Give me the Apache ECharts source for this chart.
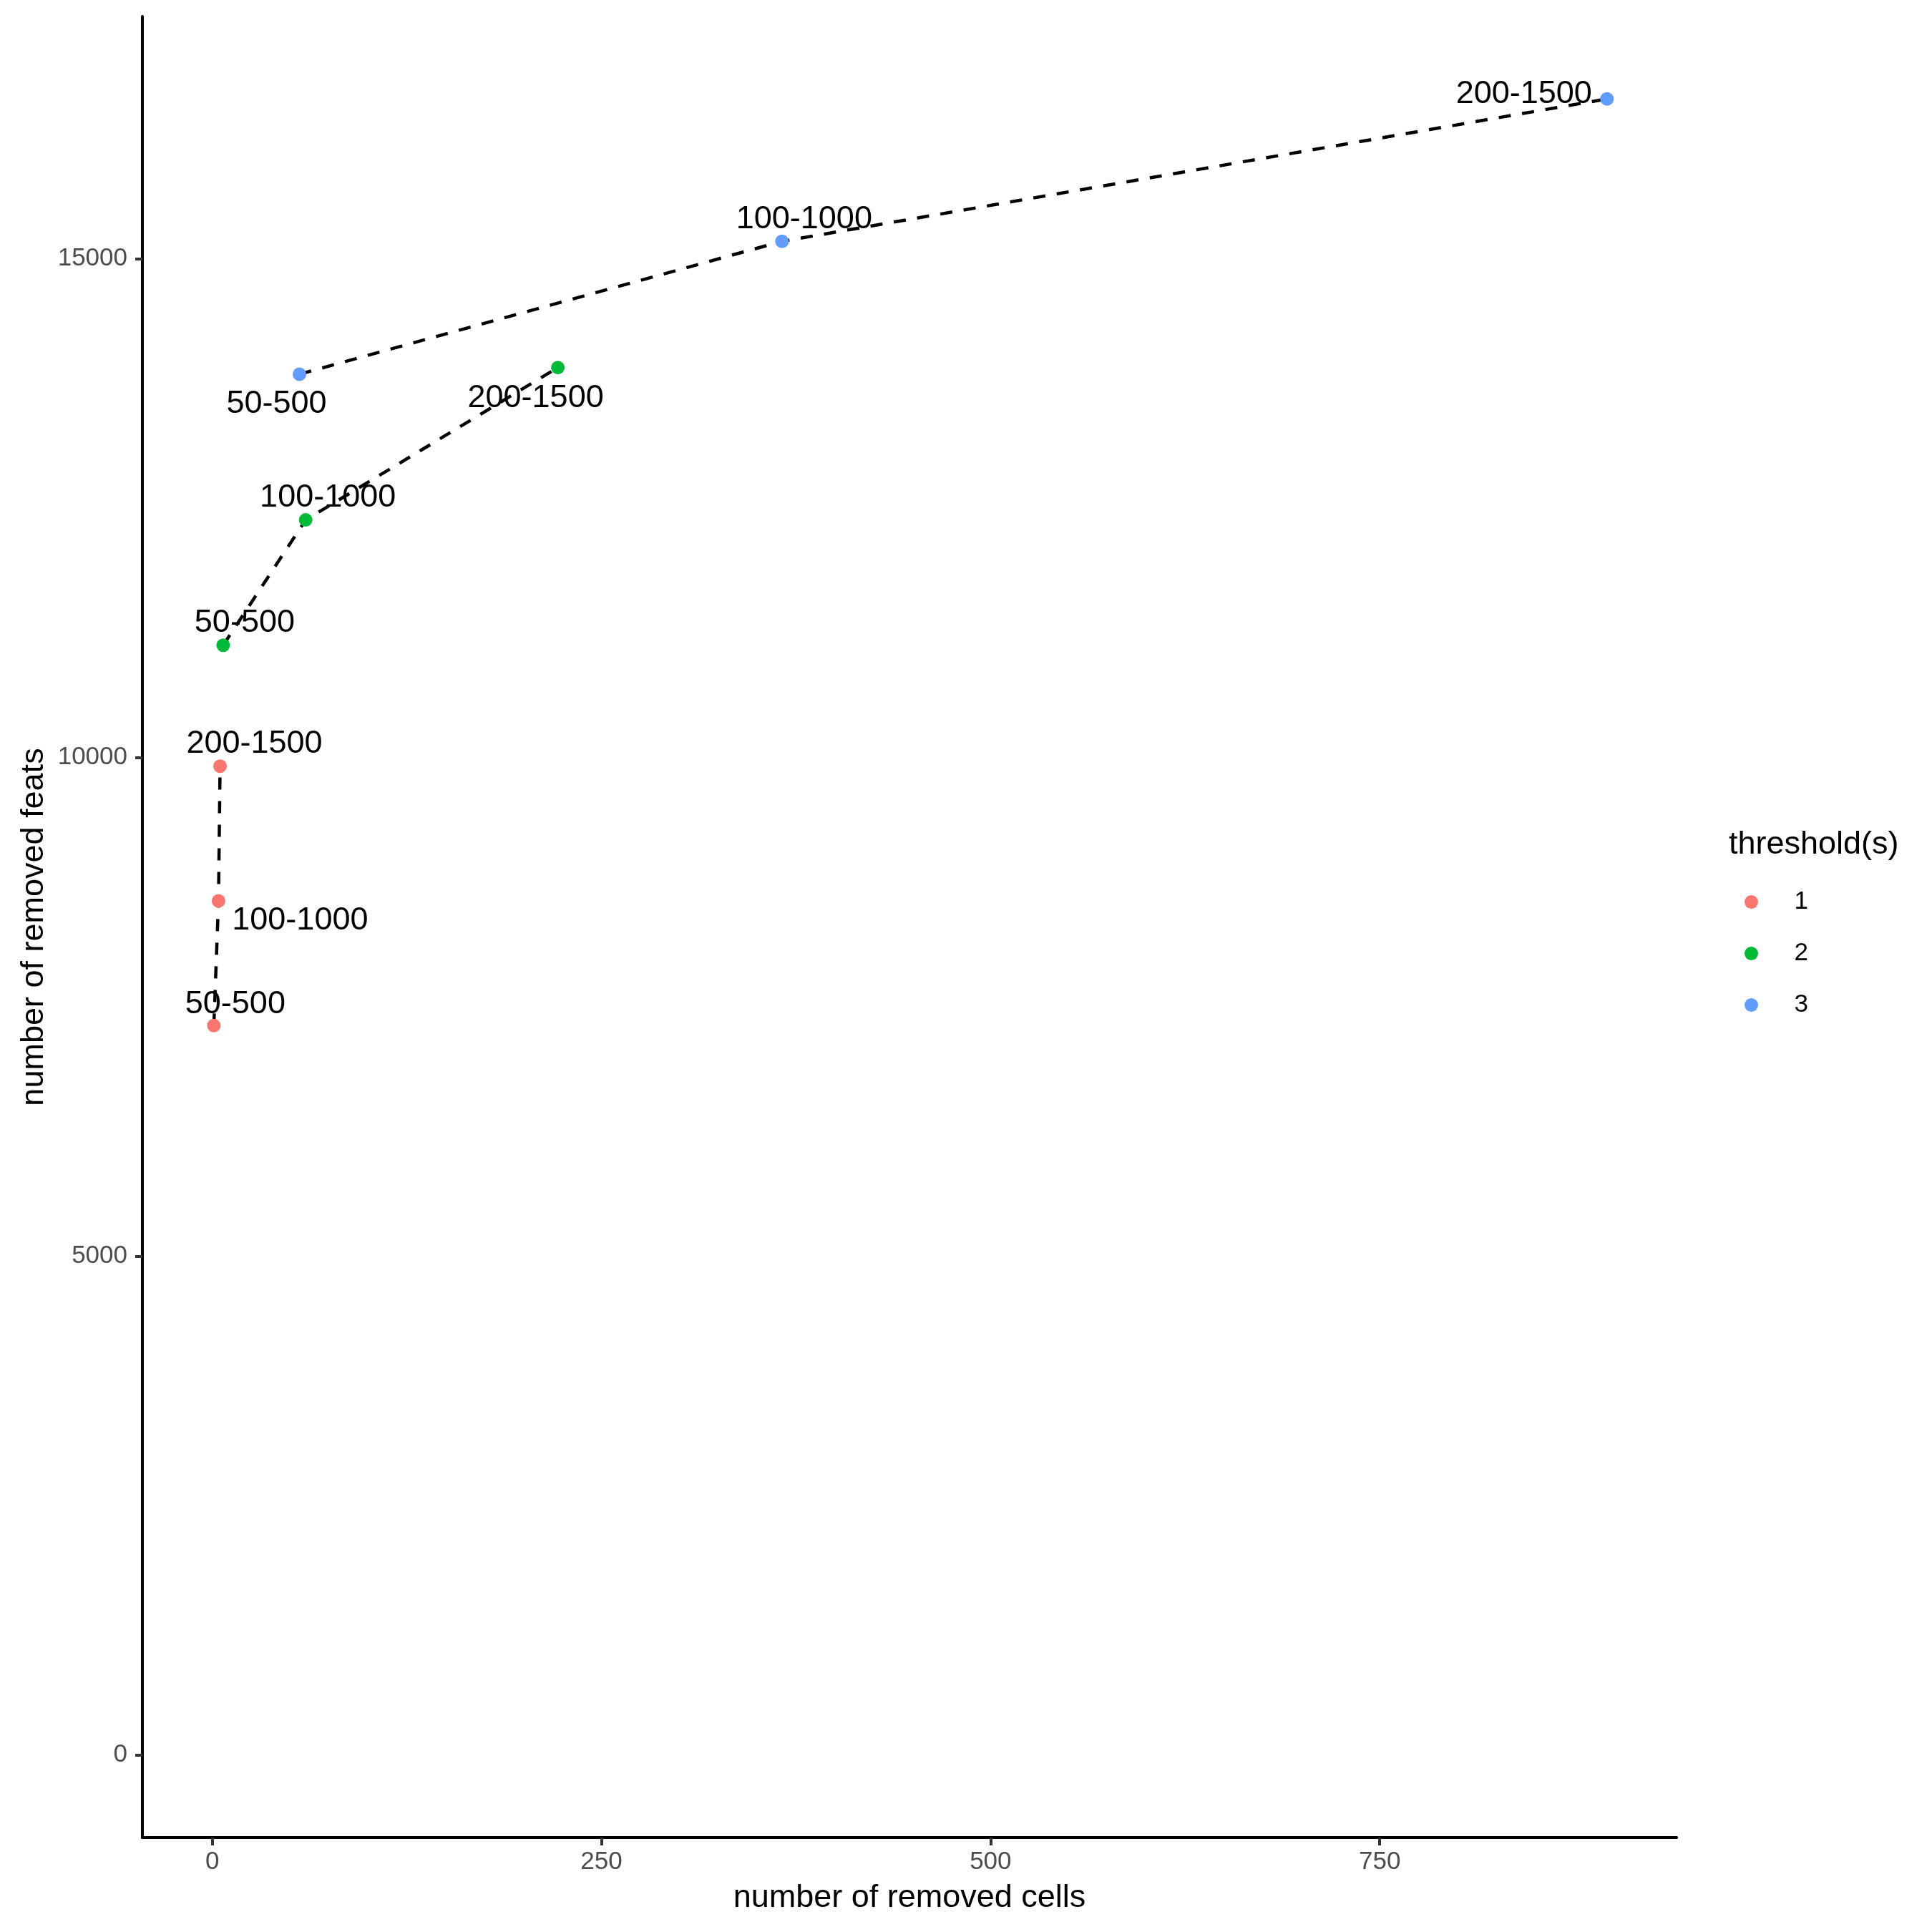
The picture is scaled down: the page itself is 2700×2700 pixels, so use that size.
<!DOCTYPE html>
<html>
<head>
<meta charset="utf-8">
<script src="https://cdn.jsdelivr.net/npm/echarts@6/dist/echarts.min.js"></script>
<style>
  html, body { margin: 0; padding: 0; background: #fff; }
</style>
</head>
<body>
<div id="main" style="width: 2700px;height: 2700px"></div>
<script type="text/javascript">
    // thresholds (legend groups) and point labels
    var groups = ['1', '2', '3'];
    var pointLabels = ['50-500', '100-1000', '200-1500'];

    // number of removed cells (x) / number of removed feats (y), per group
    var cells1 = [1, 4, 5];
    var feats1 = [7311, 8561, 9912];
    var cells2 = [7, 60, 222];
    var feats2 = [11124, 12381, 13909];
    var cells3 = [56, 366, 896];
    var feats3 = [13842, 15174, 16602];

    // tick labels
    var xTicks = [0, 250, 500, 750];
    var yTicks = [0, 5000, 10000, 15000];

    var colors = ['#F8766D', '#00BA38', '#619CFF'];
    // label offsets (px) so the text sits where the repelled labels are
    var labelNudge = [
        [[30, -30], [114, 28], [48, -31]],
        [[30, -31], [31, -31], [-31, 43]],
        [[-32, 42], [31, -31], [-116, -7]]
    ];

    var allCells = [cells1, cells2, cells3];
    var allFeats = [feats1, feats2, feats3];

    var fontFam = '"Liberation Sans", Arial, sans-serif';

    var series = groups.map(function (g, gi) {
        return {
            name: g,
            type: 'line',
            symbol: 'circle',
            symbolSize: 19,
            itemStyle: { color: colors[gi] },
            lineStyle: { color: '#000', width: 4.5, type: [17, 16] },
            z: 3,
            label: {
                show: true,
                position: 'inside',
                color: '#000',
                fontSize: 45,
                fontFamily: fontFam,
                formatter: function (p) { return pointLabels[p.dataIndex]; }
            },
            data: allCells[gi].map(function (x, i) {
                return {
                    value: [x, allFeats[gi][i]],
                    label: { offset: labelNudge[gi][i] }
                };
            })
        };
    });

    var myChart = echarts.init(document.getElementById('main'));

    var option = {
        backgroundColor: '#fff',
        animation: false,
        textStyle: { fontFamily: fontFam },
        title: {
            text: 'threshold(s)',
            left: 2411,
            top: 1153,
            textStyle: { fontSize: 45, fontWeight: 'normal', color: '#000', fontFamily: fontFam }
        },
        legend: {
            data: groups,
            orient: 'vertical',
            left: 2433,
            top: 1238,
            icon: 'circle',
            itemWidth: 110,
            itemHeight: 19,
            itemGap: 37,
            textStyle: { fontSize: 35, lineHeight: 35, color: '#000', fontFamily: fontFam }
        },
        grid: { left: 199, right: 357, top: 23, bottom: 132, containLabel: false },
        xAxis: {
            type: 'value',
            min: -44.9,
            max: 940.7,
            name: 'number of removed cells',
            nameLocation: 'middle',
            nameGap: 62,
            nameTextStyle: { fontSize: 45, color: '#000', fontFamily: fontFam },
            axisLine: { show: true, onZero: false, lineStyle: { color: '#000', width: 4 } },
            axisTick: { show: true, length: 11, customValues: xTicks, lineStyle: { color: '#333', width: 4 } },
            axisLabel: { customValues: xTicks, margin: 17, fontSize: 35, color: '#4D4D4D', fontFamily: fontFam },
            splitLine: { show: false }
        },
        yAxis: {
            type: 'value',
            min: -830,
            max: 17429,
            name: 'number of removed feats',
            nameLocation: 'middle',
            nameGap: 127,
            nameTextStyle: { fontSize: 45, color: '#000', fontFamily: fontFam },
            axisLine: { show: true, onZero: false, lineStyle: { color: '#000', width: 4 } },
            axisTick: { show: true, length: 10, customValues: yTicks, lineStyle: { color: '#333', width: 4 } },
            axisLabel: {
                customValues: yTicks, margin: 21, fontSize: 35, color: '#4D4D4D', fontFamily: fontFam,
                formatter: function (v) { return String(v); }
            },
            splitLine: { show: false }
        },
        series: series
    };

    myChart.setOption(option);
</script>
</body>
</html>
